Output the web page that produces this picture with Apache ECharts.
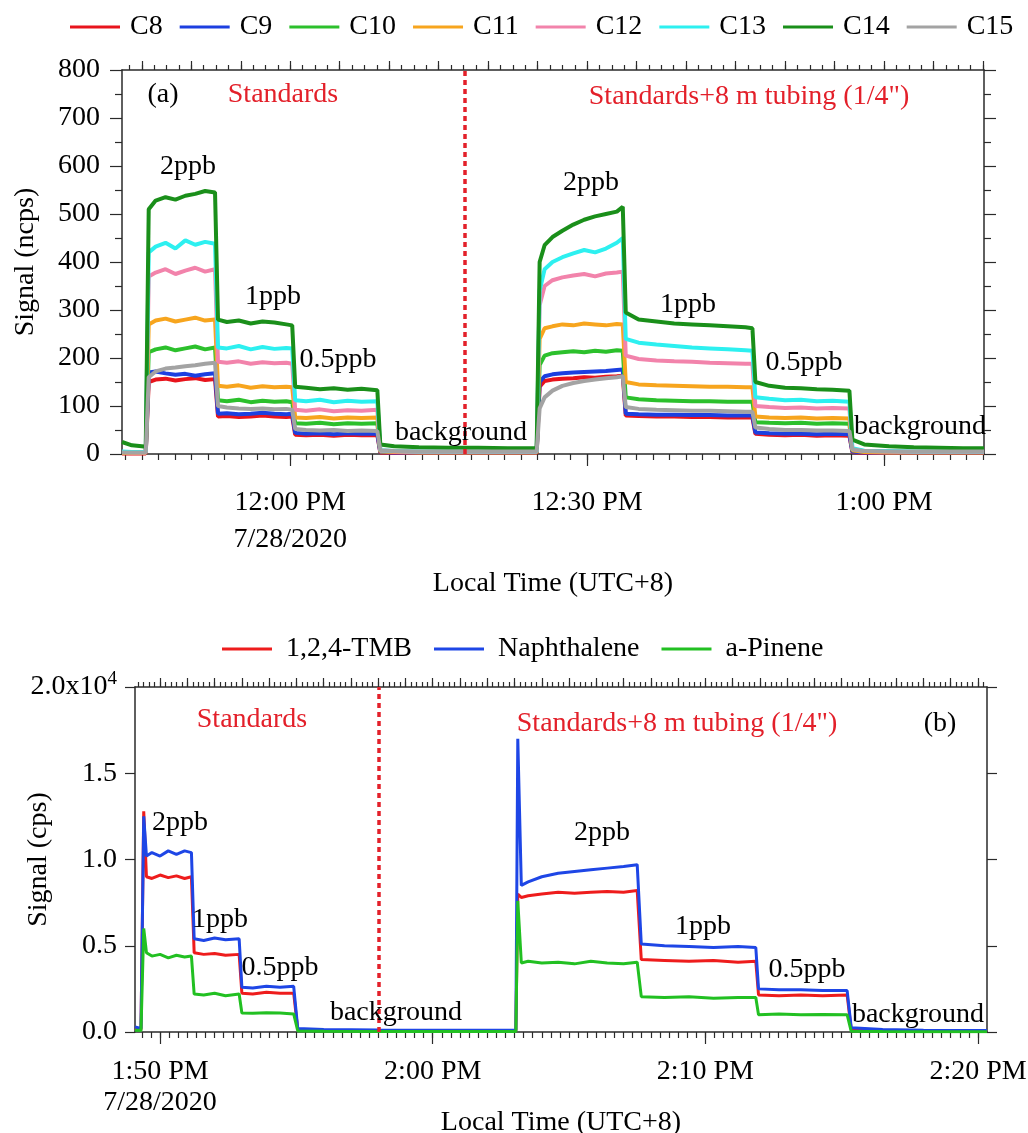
<!DOCTYPE html>
<html>
<head>
<meta charset="utf-8">
<script src="https://cdn.jsdelivr.net/npm/echarts/dist/echarts.min.js"></script>
<style>
  html, body { margin: 0; padding: 0; background: #fff; }
  #chart { width: 1028px; height: 1133px; }
</style>
</head>
<body>
<div id="chart"></div>
<script>
// ---- panel (a): minutes relative to 12:00 PM, signal in ncps
const tA = [-17.0,-16.0,-15.0,-14.6,-14.3,-13.6,-12.6,-11.6,-10.6,-9.6,
  -8.6,-7.6,-7.3,-6.4,-5.2,-4.0,-2.8,-1.6,-0.4,0.2,
  0.5,1.6,3.0,4.4,5.8,7.2,8.8,9.1,10.5,13.0,
  16.0,19.0,22.0,24.9,25.2,25.7,26.5,27.5,28.6,29.7,
  30.8,31.9,33.0,33.6,33.9,35.2,37.0,38.8,40.6,42.4,
  44.2,46.0,46.7,47.0,48.4,50.0,51.6,53.2,54.8,56.5,
  56.8,58.0,60.5,63.0,65.5,68.0,70.1]

const C8 = [1,1,1,1,150,155,157,153,156,158,
  154,156,78,79,77,78,80,78,77,78,
  40,39,40,38,40,39,39,3,2,2,
  2,2,2,2,140,152,155,157,158,160,
  159,161,162,163,80,79,78,78,77,77,
  76,76,76,42,40,39,40,38,39,38,
  4,2,2,2,2,2,2]
const C9 = [2,2,2,2,170,172,168,165,167,163,
  166,168,84,85,83,84,86,84,83,84,
  44,42,43,41,43,42,42,4,3,3,
  3,3,3,3,150,162,166,168,170,171,
  172,173,175,176,84,83,82,82,81,81,
  80,80,80,45,43,42,42,41,42,41,
  5,3,3,3,3,3,3]
const C10 = [3,3,3,3,212,218,222,216,220,224,
  218,222,112,110,113,108,111,109,110,108,
  64,63,65,62,64,63,64,6,5,4,
  4,4,4,4,185,205,210,212,214,212,
  215,213,216,215,118,114,112,111,110,110,
  109,109,109,66,65,64,65,63,64,63,
  8,5,4,4,4,4,4]
const C11 = [2,2,2,2,270,278,282,276,280,284,
  278,280,142,140,143,138,141,139,140,139,
  76,75,77,74,76,75,76,5,4,3,
  3,3,3,3,240,262,266,270,268,272,
  270,268,271,270,150,145,143,142,141,140,
  140,139,139,78,76,75,76,74,75,74,
  8,4,3,3,3,3,3]
const C12 = [4,3,3,3,370,378,385,375,382,388,
  380,385,192,190,193,188,191,189,190,188,
  92,90,93,89,91,90,92,7,5,4,
  4,4,4,4,310,350,362,368,372,375,
  370,376,378,380,205,198,195,193,192,190,
  189,188,188,100,98,96,97,95,96,95,
  10,6,5,4,4,4,4]
const C13 = [5,4,4,4,420,432,440,428,445,436,
  442,438,222,220,225,218,223,219,221,220,
  112,110,113,108,111,109,110,8,6,5,
  5,5,5,5,340,385,400,410,418,425,
  420,428,440,450,240,232,228,225,222,220,
  218,216,215,118,115,112,113,110,111,109,
  12,7,6,5,5,5,5]
const C14 = [25,18,16,15,510,528,535,530,538,542,
  548,545,280,275,278,272,276,274,270,268,
  140,138,135,137,134,136,133,20,16,14,
  13,13,12,12,400,435,452,465,478,488,
  495,500,505,515,295,280,276,272,270,268,
  266,264,262,150,142,138,137,135,134,132,
  30,20,16,14,13,12,12]
const C15 = [3,3,3,3,160,172,178,180,183,185,
  188,190,100,97,95,94,95,93,94,92,
  52,50,49,50,48,49,48,8,6,5,
  5,5,5,5,95,118,132,142,148,152,
  155,158,160,162,98,94,92,91,90,90,
  89,88,88,55,52,50,50,49,49,48,
  10,6,5,5,5,5,5]

const namesA = ['C8','C9','C10','C11','C12','C13','C14','C15']
const valuesA = [C8, C9, C10, C11, C12, C13, C14, C15]
const colorsA = ['#e8141c','#1c3fe0','#2cc02c','#f7a51e','#f283ab','#2df0f0','#1a8f1a','#a3a3a3']

const tickA = [0, 30, 60]
const tickLabelsA = ['12:00 PM\n7/28/2020', '12:30 PM', '1:00 PM']
const switchA = 17.6

// ---- panel (b): minutes relative to 1:50 PM, signal in cps
const tB = [-0.92,-0.7,-0.6,-0.5,-0.3,0.0,0.3,0.6,0.9,1.15,
  1.25,1.6,2.0,2.4,2.9,3.0,3.4,3.9,4.4,4.9,
  5.05,6.0,8.0,10.0,12.0,13.05,13.12,13.25,13.5,14.0,
  14.6,15.2,15.8,16.4,17.0,17.5,17.65,18.5,19.4,20.3,
  21.2,21.85,21.95,22.7,23.5,24.3,25.2,25.35,26.5,28.0,
  30.33]

const TMB = [200,150,12800,9000,8900,9100,8950,9050,8900,9000,
  4600,4500,4550,4450,4500,2250,2200,2300,2250,2250,
  150,100,80,70,70,70,8000,7800,7900,8000,
  8100,8050,8100,8150,8100,8200,4200,4150,4100,4150,
  4050,4100,2150,2100,2150,2100,2150,150,100,70,
  60]
const NAPH = [300,200,12500,10200,10400,10200,10500,10300,10500,10400,
  5400,5300,5450,5350,5400,2600,2550,2650,2600,2650,
  200,150,120,100,100,100,17000,8500,8700,9000,
  9200,9300,9400,9500,9600,9700,5100,5000,4950,4900,
  4950,4900,2500,2450,2450,2400,2400,250,150,100,
  80]
const PINENE = [100,80,6000,4600,4400,4500,4300,4450,4350,4400,
  2200,2150,2250,2100,2200,1100,1080,1120,1100,1050,
  60,40,30,30,30,30,7600,4000,4100,4000,
  4050,3950,4100,4000,3950,4050,2050,2000,2050,1950,
  2000,2000,1000,1050,1000,1020,1000,40,30,20,
  20]

const namesB = ['1,2,4-TMB', 'Naphthalene', 'a-Pinene']
const valuesB = [TMB, NAPH, PINENE]
const colorsB = ['#ee1c1c', '#1e46e6', '#22c022']

const tickB = [0, 10, 20, 30]
const tickLabelsB = ['1:50 PM\n7/28/2020', '2:00 PM', '2:10 PM', '2:20 PM']
const switchB = 8.02

// annotation text: [text, x, y, red?]
const notes = [
  ['(a)', 163, 95, 0], ['Standards', 283, 95, 1], ['Standards+8 m tubing (1/4")', 749, 97, 1],
  ['2ppb', 188, 167, 0], ['1ppb', 273, 297, 0], ['0.5ppb', 338, 360, 0], ['background', 461, 433, 0],
  ['2ppb', 591, 183, 0], ['1ppb', 688, 305, 0], ['0.5ppb', 804, 363, 0], ['background', 920, 427, 0],
  ['Standards', 252, 720, 1], ['Standards+8 m tubing (1/4")', 677, 724, 1], ['(b)', 940, 724, 0],
  ['2ppb', 180, 823, 0], ['1ppb', 220, 920, 0], ['0.5ppb', 280, 968, 0], ['background', 396, 1013, 0],
  ['2ppb', 602, 833, 0], ['1ppb', 703, 927, 0], ['0.5ppb', 807, 970, 0], ['background', 918, 1015, 0]
]

const FONT = "'Liberation Serif', 'Times New Roman', serif"
const AX = '#2a2a2a'
const RED = '#e3202a'

function range(a, b, step) {
  const out = []
  const k0 = Math.ceil(a / step - 1e-9), k1 = Math.floor(b / step + 1e-9)
  for (let k = k0; k <= k1; k++) out.push(+(k * step).toFixed(4))
  return out
}

function tickAxis(grid, pos, min, max, values, len, line) {
  return {
    type: 'value', gridIndex: grid, position: pos, min: min, max: max,
    axisLine: { show: line, onZero: false, lineStyle: { color: AX, width: 1.5 } },
    axisTick: { show: true, customValues: values, length: len, lineStyle: { color: AX, width: 1.2 } },
    axisLabel: { show: false },
    splitLine: { show: false }
  }
}

function labelAxis(grid, min, max, ticks, labels, margin, lh, nameGap) {
  const ax = tickAxis(grid, 'bottom', min, max, ticks, 12, true)
  ax.axisLabel = {
    show: true, customValues: ticks, margin: margin,
    fontFamily: FONT, fontSize: 28, color: '#000', lineHeight: lh,
    formatter: (v) => labels[ticks.indexOf(v)] || ''
  }
  ax.name = 'Local Time (UTC+8)'
  ax.nameLocation = 'middle'
  ax.nameGap = nameGap
  ax.nameMoveOverlap = false
  ax.nameTextStyle = { fontFamily: FONT, fontSize: 28, color: '#000' }
  return ax
}

const minA = -17.0, maxA = 70.1
const minB = -0.92, maxB = 30.33

const xAxes = [
  labelAxis(0, minA, maxA, tickA, tickLabelsA, 30, 37, 116),
  tickAxis(0, 'bottom', minA, maxA, range(minA, maxA, 5 / 3), 6, false),
  tickAxis(0, 'top', minA, maxA, range(minA, maxA, 5), 9, true),
  tickAxis(0, 'top', minA, maxA, range(minA, maxA, 1.25), 5, false),
  labelAxis(1, minB, maxB, tickB, tickLabelsB, 24, 31, 77),
  tickAxis(1, 'bottom', minB, maxB, range(minB, maxB, 1 / 3), 6, false),
  tickAxis(1, 'top', minB, maxB, range(minB, maxB, 1), 9, true),
  tickAxis(1, 'top', minB, maxB, range(minB, maxB, 0.2), 5, false)
]

function yAxisFor(grid, pos, max, interval, len, minor, label, name) {
  return {
    type: 'value', gridIndex: grid, position: pos, min: 0, max: max, interval: interval,
    axisLine: { show: true, onZero: false, lineStyle: { color: AX, width: 1.5 } },
    axisTick: { show: true, length: len, lineStyle: { color: AX, width: 1.2 } },
    minorTick: { show: minor, splitNumber: 2, length: 7, lineStyle: { color: AX, width: 1.2 } },
    axisLabel: label || { show: false },
    splitLine: { show: false },
    minorSplitLine: { show: false },
    name: name || '', nameLocation: 'middle', nameGap: 82, nameMoveOverlap: false,
    nameTextStyle: { fontFamily: FONT, fontSize: 28, color: '#000' }
  }
}

const yAxes = [
  yAxisFor(0, 'left', 800, 100, 12, true,
    { show: true, margin: 22, fontFamily: FONT, fontSize: 28, color: '#000' }, 'Signal (ncps)'),
  yAxisFor(0, 'right', 800, 100, 12, true),
  yAxisFor(1, 'left', 20000, 5000, 10, false,
    { show: true, margin: 18, fontFamily: FONT, fontSize: 28, color: '#000',
      formatter: (v) => v === 20000 ? '2.0x10{sup|4}' : (v / 10000).toFixed(1),
      rich: { sup: { fontFamily: FONT, fontSize: 19, color: '#000', padding: [0, 0, 16, 0] } } },
    'Signal (cps)'),
  yAxisFor(1, 'right', 20000, 5000, 10, false)
]

const series = []
namesA.forEach((n, i) => {
  series.push({
    name: n, type: 'line', xAxisIndex: 0, yAxisIndex: 0,
    data: tA.map((t, j) => [t, valuesA[i][j]]),
    showSymbol: false, symbol: 'none', color: colorsA[i],
    lineStyle: { width: 4 }, silent: true,
    markLine: i === namesA.length - 1 ? {
      symbol: 'none', silent: true, label: { show: false },
      lineStyle: { color: RED, type: [5, 4], width: 3.5 },
      data: [{ xAxis: switchA }]
    } : undefined
  })
})
namesB.forEach((n, i) => {
  series.push({
    name: n, type: 'line', xAxisIndex: 4, yAxisIndex: 2,
    data: tB.map((t, j) => [t, valuesB[i][j]]),
    showSymbol: false, symbol: 'none', color: colorsB[i],
    lineStyle: { width: 3 }, silent: true,
    markLine: i === namesB.length - 1 ? {
      symbol: 'none', silent: true, label: { show: false },
      lineStyle: { color: RED, type: [5, 4], width: 3.5 },
      data: [{ xAxis: switchB }]
    } : undefined
  })
})

const legendBase = {
  icon: 'rect', itemWidth: 50, itemHeight: 3, orient: 'horizontal', width: 1000, padding: 0,
  textStyle: { fontFamily: FONT, fontSize: 28, color: '#000', padding: [0, 0, 0, 5] },
  selectedMode: false
}

const chart = echarts.init(document.getElementById('chart'), null, { renderer: 'canvas' })
chart.setOption({
  backgroundColor: '#fff',
  animation: false,
  grid: [
    { left: 122, top: 70, width: 862, height: 384, outerBoundsMode: 'none', containLabel: false },
    { left: 135, top: 687, width: 852, height: 345, outerBoundsMode: 'none', containLabel: false }
  ],
  legend: [
    Object.assign({}, legendBase, { data: namesA, left: 70, top: 13, itemGap: 17 }),
    Object.assign({}, legendBase, { data: namesB, left: 222, top: 635, itemGap: 22,
      textStyle: { fontFamily: FONT, fontSize: 28, color: '#000', padding: [0, 0, 0, 9] } })
  ],
  xAxis: xAxes,
  yAxis: yAxes,
  series: series,
  graphic: notes.map(n => ({
    type: 'text', z: 100, silent: true,
    style: { text: n[0], x: n[1], y: n[2], fill: n[3] ? RED : '#000',
      font: '28px ' + FONT, align: 'center', verticalAlign: 'middle' }
  }))
})
</script>
</body>
</html>
